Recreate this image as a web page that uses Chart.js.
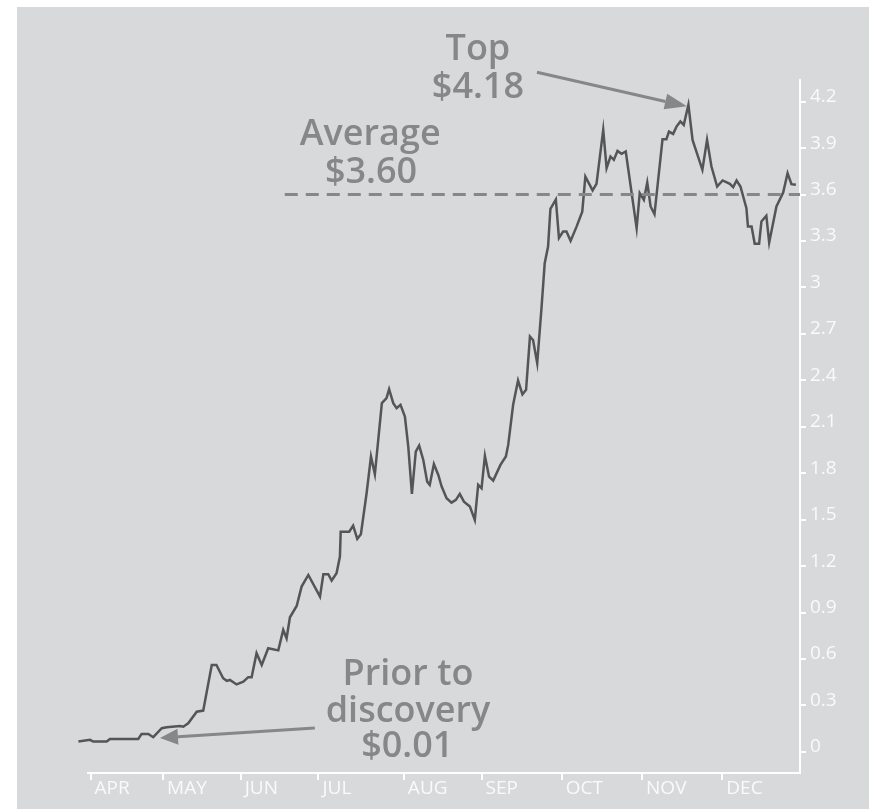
<!DOCTYPE html>
<html><head><meta charset="utf-8">
<script src="https://cdn.jsdelivr.net/npm/chart.js@4.4.0/dist/chart.umd.min.js"></script>
<style>html,body{margin:0;padding:0;background:#fff;} canvas{display:block;}</style>
</head><body>
<canvas id="c" width="873" height="809"></canvas>
<script>
// x = days (approx.) from the start of April, y = price in $
const days = [-3.7,0.8,2.0,7.2,8.5,19.4,20.7,23.3,25.2,28.5,30.4,35.5,36.8,38.7,42.0,44.5,47.8,49.6,52.2,53.6,54.8,57.4,60.0,61.9,63.2,65.1,67.1,69.6,73.5,75.4,76.7,78.0,80.6,82.5,85.1,89.6,90.9,92.8,94.1,96.0,97.3,97.6,100.9,102.4,104.0,105.4,107.6,109.3,110.8,112.1,113.5,115.3,116.3,117.9,119.2,120.7,122.4,123.7,125.1,126.6,127.9,129.5,131.0,132.0,133.6,135.3,136.6,138.5,140.4,142.1,143.6,145.2,147.5,149.4,150.7,152.0,153.3,154.9,156.5,159.3,161.4,162.3,164.2,166.1,167.8,169.2,170.7,171.9,173.5,175.2,176.4,177.7,178.6,180.7,181.9,183.5,184.8,186.4,188.7,190.9,192.1,194.9,196.4,199.0,200.3,201.8,203.1,204.5,206.1,207.7,211.9,213.1,214.7,216.0,217.3,218.8,221.9,223.4,224.4,226.0,227.3,228.8,230.1,231.9,233.5,237.3,239.1,240.8,243.0,245.1,247.9,249.2,250.5,252.0,254.3,254.9,256.3,257.5,259.2,260.1,262.0,263.1,265.9,268.5,270.2,271.7,273.4];
const prices = [0.067,0.078,0.067,0.067,0.084,0.084,0.116,0.116,0.095,0.153,0.160,0.168,0.163,0.185,0.260,0.267,0.562,0.562,0.476,0.459,0.465,0.436,0.454,0.483,0.483,0.638,0.562,0.670,0.656,0.788,0.734,0.870,0.943,1.068,1.143,1.003,1.148,1.148,1.107,1.154,1.262,1.423,1.423,1.462,1.376,1.406,1.671,1.908,1.794,2.016,2.253,2.285,2.343,2.253,2.220,2.242,2.166,1.972,1.667,1.940,1.979,1.886,1.746,1.725,1.859,1.789,1.714,1.639,1.610,1.628,1.667,1.617,1.585,1.499,1.725,1.703,1.912,1.778,1.753,1.854,1.908,1.983,2.242,2.399,2.309,2.339,2.683,2.661,2.511,2.877,3.157,3.264,3.508,3.568,3.320,3.361,3.361,3.301,3.393,3.490,3.716,3.627,3.669,4.018,3.771,3.846,3.824,3.882,3.863,3.878,3.383,3.609,3.566,3.678,3.523,3.473,3.958,3.958,4.007,3.992,4.039,4.072,4.050,4.180,3.953,3.760,3.953,3.781,3.652,3.691,3.669,3.648,3.691,3.652,3.512,3.393,3.393,3.282,3.282,3.426,3.463,3.290,3.523,3.613,3.738,3.667,3.663];
const monthTicks = [1,29,59,89,122,152,183,214,245];
const monthLabels = ['APR','MAY','JUN','JUL','AUG','SEP','OCT','NOV','DEC'];
const yTicks = [0,0.3,0.6,0.9,1.2,1.5,1.8,2.1,2.4,2.7,3,3.3,3.6,3.9,4.2];
const yTickLabels = ['0','0.3','0.6','0.9','1.2','1.5','1.8','2.1','2.4','2.7','3','3.3','3.6','3.9','4.2'];
const averagePrice = 3.60;
const topPrice = 4.18;
const priorPrice = 0.01;

const BG = '#d8d9db';
const ANN = '#878787';

const bgPlugin = {
  id: 'bg',
  beforeDraw(chart) {
    const ctx = chart.ctx;
    ctx.save();
    ctx.fillStyle = BG;
    ctx.fillRect(17, 7, chart.width - 21, chart.height - 7);
    ctx.restore();
  }
};

function arrow(ctx, x1, y1, x2, y2, headLen, headHalf) {
  const a = Math.atan2(y2 - y1, x2 - x1);
  const bx = x2 - headLen * Math.cos(a), by = y2 - headLen * Math.sin(a);
  ctx.beginPath();
  ctx.moveTo(x1, y1);
  ctx.lineTo(bx, by);
  ctx.stroke();
  ctx.beginPath();
  ctx.moveTo(x2, y2);
  ctx.lineTo(bx + headHalf * Math.sin(a), by - headHalf * Math.cos(a));
  ctx.lineTo(bx - headHalf * Math.sin(a), by + headHalf * Math.cos(a));
  ctx.closePath();
  ctx.fill();
}

const annPlugin = {
  id: 'ann',
  afterDatasetsDraw(chart) {
    const ctx = chart.ctx, xs = chart.scales.x, ys = chart.scales.y;
    const X = v => xs.getPixelForValue(v), Y = v => ys.getPixelForValue(v);
    ctx.save();
    // average dashed line
    ctx.strokeStyle = ANN;
    ctx.lineWidth = 3;
    ctx.setLineDash([13, 8]);
    ctx.beginPath();
    ctx.moveTo(X(76), Y(averagePrice));
    ctx.lineTo(X(275), Y(averagePrice));
    ctx.stroke();
    ctx.setLineDash([]);
    // arrows
    ctx.fillStyle = ANN;
    ctx.lineWidth = 3;
    arrow(ctx, X(173.4), Y(4.39), X(231.3), Y(4.17), 22, 8);
    arrow(ctx, X(87.6), Y(0.155), X(27.8), Y(0.090), 18, 8);
    // texts
    ctx.font = '600 36px "Open Sans"';
    ctx.textAlign = 'center';
    ctx.textBaseline = 'middle';
    ctx.fillText('Top', X(150.6), Y(4.535));
    ctx.fillText('$' + topPrice.toFixed(2), X(150.6), Y(4.29));
    ctx.fillText('Average', X(109), Y(3.986));
    ctx.fillText('$' + averagePrice.toFixed(2), X(109.3), Y(3.74));
    ctx.fillText('Prior to', X(123.6), Y(0.497));
    ctx.fillText('discovery', X(123.6), Y(0.258));
    ctx.fillText('$' + priorPrice.toFixed(2), X(123.3), Y(0.032));
    ctx.restore();
  }
};

new Chart(document.getElementById('c'), {
  type: 'line',
  data: {
    datasets: [{
      data: days.map((d, i) => ({ x: d, y: prices[i] })),
      borderColor: '#555555',
      borderWidth: 2.5,
      pointRadius: 0,
      tension: 0,
      fill: false,
      clip: false
    }]
  },
  options: {
    responsive: false,
    animation: false,
    devicePixelRatio: 1,
    layout: { padding: { left: 88, top: 80, right: 0, bottom: 0 } },
    plugins: { legend: { display: false }, tooltip: { enabled: false } },
    scales: {
      x: {
        type: 'linear',
        min: 0, max: 275,
        afterBuildTicks: axis => { axis.ticks = monthTicks.map(v => ({ value: v })); },
        afterFit: s => { s.height = 36; },
        grid: { drawOnChartArea: false, color: '#ffffff', tickLength: 7, lineWidth: 2 },
        border: { color: '#ffffff', width: 2 },
        ticks: {
          align: 'start',
          labelOffset: 4,
          padding: -3,
          maxRotation: 0,
          autoSkip: false,
          color: '#fafafa',
          font: { family: '"Open Sans"', size: 19 },
          callback: (v) => monthLabels[monthTicks.indexOf(v)]
        }
      },
      y: {
        position: 'right',
        min: -0.136, max: 4.34,
        afterBuildTicks: axis => { axis.ticks = yTicks.map(v => ({ value: v })); },
        afterFit: s => { s.width = 73; },
        grid: { drawOnChartArea: false, color: '#ffffff', tickLength: 6, lineWidth: 2 },
        border: { color: '#ffffff', width: 2 },
        ticks: {
          padding: 4,
          labelOffset: -5,
          autoSkip: false,
          color: '#fafafa',
          font: { family: '"Open Sans"', size: 19 },
          callback: (v) => yTickLabels[yTicks.indexOf(v)]
        }
      }
    }
  },
  plugins: [bgPlugin, annPlugin]
});
</script>
</body></html>
